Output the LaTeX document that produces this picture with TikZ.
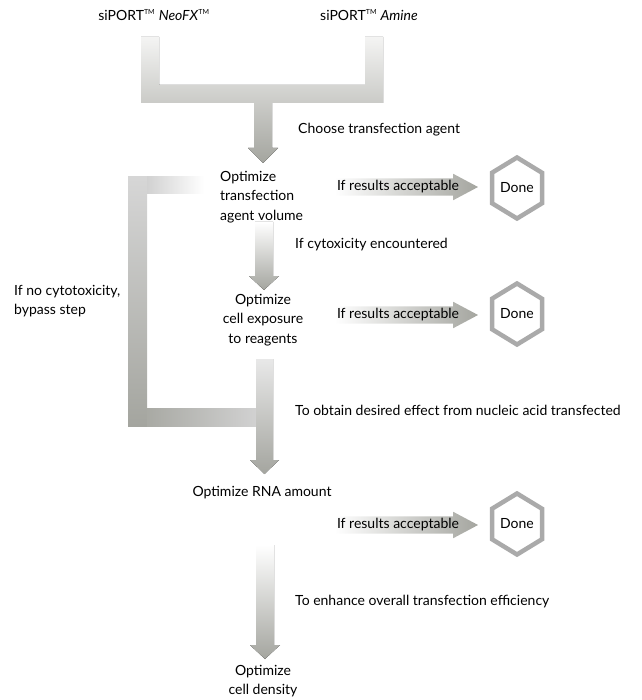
\documentclass[tikz,border=0pt]{standalone}
\usepackage{fontspec}
\setmainfont{Lato}
\usetikzlibrary{shapes.geometric,shapes.arrows}
\definecolor{gdark}{RGB}{164,165,159}
\definecolor{gtop}{RGB}{244,244,243}
\definecolor{hexc}{RGB}{170,170,170}
\newcommand{\tmk}{\textsuperscript{\fontsize{7}{7}\selectfont TM}}
\begin{document}
\begin{tikzpicture}[x=1pt,y=-1pt,
  lbl/.style={font=\fontsize{14}{19.5}\selectfont, inner sep=0pt},
  okarrow/.style={single arrow, font=\fontsize{14}{16}\selectfont, text height=10pt, text depth=3pt,
     inner xsep=2.5pt, inner ysep=2pt, single arrow head extend=4.5pt, single arrow tip angle=56,
     left color=white, right color=gdark, draw=none},
  donelbl/.style={inner sep=0pt, font=\fontsize{14}{16}\selectfont},
  hexline/.style={draw=hexc, line width=4.5pt, line join=miter},
  vshade/.style={top color=gtop, bottom color=gdark, draw=none}]
\useasboundingbox (0,0) rectangle (641,700);

% ---- top fork
\fill[vshade] (141,37) -- (159,37) -- (159,85) -- (365,85) -- (365,37) -- (383,37) -- (383,103)
  -- (272,103) -- (272,148) -- (278,148) -- (263,163) -- (248,148) -- (254,148) -- (254,103)
  -- (141,103) -- cycle;

% ---- arrow 2
\fill[top color=white, bottom color=gdark] (255,222) -- (273,222) -- (273,276) -- (279,276)
  -- (264,290) -- (249,276) -- (255,276) -- cycle;

% ---- bypass bracket
\fill[top color=black!16, bottom color=gdark] (128,177) rectangle (147,426);
\fill[left color=black!18, right color=white] (147,177) rectangle (204,194);
\fill[left color=gdark!95, right color=black!18] (147,408) rectangle (256,426);
\fill[top color=black!9, bottom color=gdark] (256,359) -- (273,359) -- (273,460) -- (279,460)
  -- (264.5,474) -- (250,460) -- (256,460) -- cycle;

% ---- arrow 4
\fill[top color=white, bottom color=gdark] (256,545) -- (274,545) -- (274,645) -- (280,645)
  -- (265,659) -- (250,645) -- (256,645) -- cycle;

% ---- texts
\node[lbl] (neofx) at (154,15) {siPORT\tmk\ \textit{NeoFX}\tmk};
\node[lbl] (amine) at (369,15) {siPORT\tmk\ \textit{Amine}};
\node[lbl, anchor=west] (choose) at (298,130) {Choose transfection agent};
\node[lbl, anchor=west, align=left] (opt1) at (220,197) {Optimize\\transfection\\agent volume};
\node[lbl, anchor=west] (cyto) at (295,245) {If cytoxicity encountered};
\node[lbl, align=center] (opt2) at (263,320) {Optimize\\cell exposure\\to reagents};
\node[lbl, anchor=west, align=left] (bypass) at (14,301) {If no cytotoxicity,\\bypass step};
\node[lbl, anchor=west] (obtain) at (295,410) {To obtain desired effect from nucleic acid transfected};
\node[lbl] (rna) at (262,493) {Optimize RNA amount};
\node[lbl, anchor=west] (enh) at (295,602) {To enhance overall transfection efficiency};
\node[lbl, align=center] (opt4) at (263,681) {Optimize\\cell density};

% ---- acceptable arrows and Done
\node[okarrow] (ok1) at (398,187) {If results acceptable};
\node[okarrow] (ok2) at (398,315) {If results acceptable};
\node[okarrow] (ok3) at (398,525) {If results acceptable};
\foreach \n/\y in {done1/188, done2/314, done3/524} {
  \node[donelbl] (\n) at (517,\y) {Done};
  \draw[hexline] (\n.center) ++(0,-30.5) -- ++(25,15.25) -- ++(0,30.5) -- ++(-25,15.25)
     -- ++(-25,-15.25) -- ++(0,-30.5) -- cycle;
}
\end{tikzpicture}
\end{document}
